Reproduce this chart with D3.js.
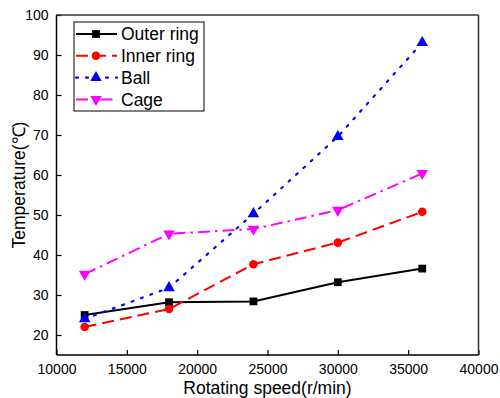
<!DOCTYPE html>
<html>
<head>
<meta charset="utf-8">
<script src="https://cdn.jsdelivr.net/npm/d3@7"></script>
<style>
  html, body { margin: 0; padding: 0; background: #fff; }
  svg { display: block; font-family: "Liberation Sans", Arial, sans-serif; }
</style>
</head>
<body>
<svg id="chart" width="500" height="398"></svg>
<script>
// Bearing component temperatures versus rotating speed
const speeds = [12000, 18000, 24000, 30000, 36000];
const outerRing = [25.0, 28.2, 28.4, 33.2, 36.6];
const innerRing = [22.0, 26.5, 37.7, 43.1, 50.8];
const ball = [24.0, 31.8, 50.3, 69.6, 93.1];
const cage = [35.2, 45.3, 46.5, 51.2, 60.4];

const seriesNames = ["Outer ring", "Inner ring", "Ball", "Cage"];
const xTicks = [10000, 15000, 20000, 25000, 30000, 35000, 40000];
const yTicks = [20, 30, 40, 50, 60, 70, 80, 90, 100];

const svg = d3.select("#chart");
const plotLeft = 56.5, plotRight = 478.5, plotTop = 15, plotBottom = 355;

const x = d3.scaleLinear().domain([10000, 40000]).range([plotLeft, plotRight]);
const y = d3.scaleLinear().domain([15, 100]).range([plotBottom, plotTop]);

const styles = [
  { color: "#000000", dash: null, width: 2, symbol: d3.symbolSquare, size: 60, rot: 0 },
  { color: "#ff0000", dash: "12,6", width: 2, symbol: d3.symbolCircle, size: 58, rot: 0 },
  { color: "#0000ff", dash: "2,8", width: 2.2, symbol: d3.symbolTriangle, size: 58, rot: 0 },
  { color: "#ff00ff", dash: "12,5,2.5,5", width: 2, symbol: d3.symbolTriangle, size: 58, rot: 180 }
];
const seriesData = [outerRing, innerRing, ball, cage];

// Axes with inward ticks
const xAxis = d3.axisBottom(x).tickValues(xTicks).tickFormat(d3.format("d"))
  .tickSizeInner(-5).tickSizeOuter(0).tickPadding(9);
const yAxis = d3.axisLeft(y).tickValues(yTicks).tickFormat(d3.format("d"))
  .tickSizeInner(-5).tickSizeOuter(0).tickPadding(8);

const gx = svg.append("g").attr("transform", `translate(0,${plotBottom})`).call(xAxis);
const gy = svg.append("g").attr("transform", `translate(${plotLeft},0)`).call(yAxis);
[gx, gy].forEach(g => {
  g.select(".domain").remove();
  g.selectAll(".tick line").attr("stroke", "#000").attr("stroke-width", 1.2);
  g.selectAll(".tick text").attr("fill", "#000").style("font-size", "14px")
    .style("font-family", '"Liberation Sans", Arial, sans-serif');
});

// Frame
svg.append("line").attr("x1", plotLeft).attr("x2", plotRight).attr("y1", plotTop).attr("y2", plotTop)
  .attr("stroke", "#333").attr("stroke-width", 1.5);
svg.append("line").attr("x1", plotRight).attr("x2", plotRight).attr("y1", plotTop).attr("y2", plotBottom)
  .attr("stroke", "#333").attr("stroke-width", 1.5);
svg.append("line").attr("x1", plotLeft).attr("x2", plotRight).attr("y1", plotBottom).attr("y2", plotBottom)
  .attr("stroke", "#000").attr("stroke-width", 1.5);
svg.append("line").attr("x1", plotLeft).attr("x2", plotLeft).attr("y1", plotTop).attr("y2", plotBottom)
  .attr("stroke", "#000").attr("stroke-width", 1.5);

// Series lines and markers
const line = d3.line().x((d, i) => x(speeds[i])).y(d => y(d));
seriesData.forEach((vals, k) => {
  const s = styles[k];
  svg.append("path").datum(vals).attr("d", line)
    .attr("fill", "none").attr("stroke", s.color).attr("stroke-width", s.width)
    .attr("stroke-dasharray", s.dash).attr("stroke-linecap", k === 2 ? "round" : "butt");
  svg.append("g").selectAll("path").data(vals).join("path")
    .attr("d", d3.symbol().type(s.symbol).size(s.size))
    .attr("transform", (d, i) => `translate(${x(speeds[i])},${y(d)}) rotate(${s.rot})`)
    .attr("fill", s.color);
});

// Legend
const lg = svg.append("g");
lg.append("rect").attr("x", 74).attr("y", 22).attr("width", 130).attr("height", 89)
  .attr("fill", "#fff").attr("stroke", "#000").attr("stroke-width", 1);
seriesNames.forEach((name, k) => {
  const s = styles[k];
  const cy = 34 + k * 21.8;
  lg.append("line").attr("x1", 76).attr("x2", 117).attr("y1", cy).attr("y2", cy)
    .attr("stroke", s.color).attr("stroke-width", s.width)
    .attr("stroke-dasharray", s.dash).attr("stroke-linecap", k === 2 ? "round" : "butt");
  lg.append("path").attr("d", d3.symbol().type(s.symbol).size(s.size))
    .attr("transform", `translate(96,${cy}) rotate(${s.rot})`).attr("fill", s.color);
  lg.append("text").attr("x", 121).attr("y", cy + 6.2).text(name)
    .style("font-size", "17.5px").attr("fill", "#000");
});

// Axis titles
svg.append("text").attr("x", (plotLeft + plotRight) / 2).attr("y", 394)
  .attr("text-anchor", "middle").style("font-size", "17.5px").text("Rotating speed(r/min)");
svg.append("text").attr("transform", `translate(25,${(plotTop + plotBottom) / 2}) rotate(-90)`)
  .attr("text-anchor", "middle").style("font-size", "17.5px").text("Temperature(℃)");
</script>
</body>
</html>
